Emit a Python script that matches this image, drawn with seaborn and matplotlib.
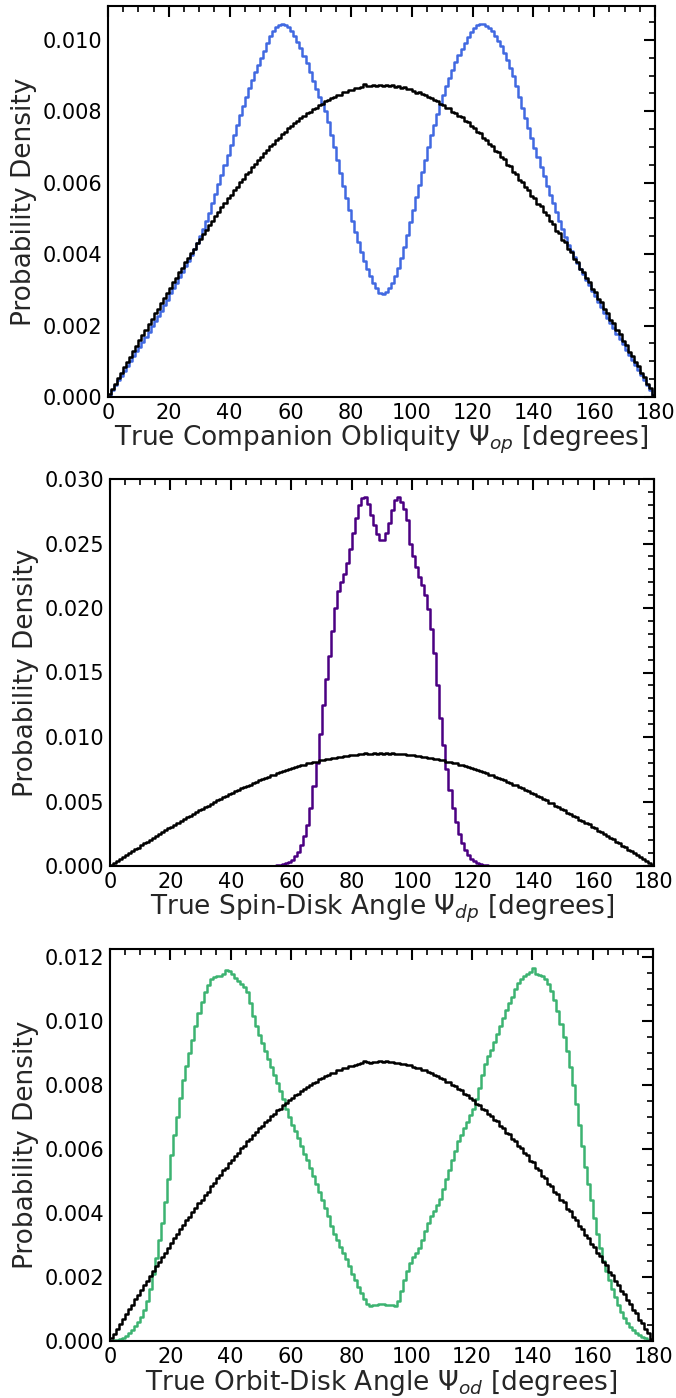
import numpy as np
import pandas as pd
import matplotlib
matplotlib.use("Agg")
import matplotlib.pyplot as plt
import seaborn as sns
from matplotlib.ticker import MultipleLocator, FormatStrFormatter

# ---- data: 1-degree bins from 0 to 180, probability density in units of 1e-4 ----
bin_lo, bin_hi, bin_w = 0, 180, 1

isotropic = [
    0.8, 2.3, 3.7, 5.4, 6.8, 8.4, 9.9, 11.3, 13.0, 14.3, 15.9, 17.5, 18.8, 20.4, 21.8, 23.4, 24.7, 26.3, 27.6, 29.2,
    30.5, 32.1, 33.3, 34.9, 36.1, 37.7, 38.9, 40.4, 41.5, 43.1, 44.2, 45.7, 46.7, 48.3, 49.3, 50.8, 51.8, 53.3, 54.2, 55.6,
    56.6, 57.9, 58.8, 60.2, 61.0, 62.4, 63.1, 64.5, 65.2, 66.5, 67.2, 68.4, 69.1, 70.3, 70.9, 72.1, 72.6, 73.7, 74.3, 75.3,
    75.8, 76.8, 77.3, 78.2, 78.6, 79.5, 79.9, 80.7, 81.0, 81.8, 82.1, 82.8, 83.1, 83.8, 83.9, 84.6, 84.7, 85.3, 85.4, 85.9,
    86.0, 86.4, 86.5, 86.8, 87.6, 87.1, 87.0, 87.3, 87.2, 87.4,
    87.2, 87.4, 87.1, 87.3, 86.9, 87.0, 86.6, 86.7, 86.2, 86.3, 85.7, 85.2, 85.4, 84.8, 84.7, 84.0, 83.8, 83.1, 82.9, 82.1,
    81.9, 81.0, 80.8, 79.9, 79.6, 78.6, 78.3, 77.2, 76.9, 75.8, 75.4, 74.2, 73.8, 72.6, 72.1, 70.9, 70.4, 69.0, 68.6, 67.1,
    66.6, 65.1, 64.6, 63.0, 62.5, 60.9, 60.3, 58.7, 58.1, 56.4, 55.8, 54.1, 53.4, 51.7, 51.0, 49.2, 48.5, 46.6, 45.9, 44.0,
    43.3, 41.4, 40.6, 38.7, 37.9, 35.9, 35.1, 33.2, 32.3, 30.3, 29.4, 27.5, 26.5, 24.6, 23.6, 21.6, 20.6, 18.7, 17.6, 15.7,
    14.6, 12.7, 11.6, 9.7, 8.6, 6.7, 5.5, 3.6, 2.5, 0.7,
]

obliquity = [
    0.6, 2.0, 3.4, 4.7, 6.0, 7.4, 8.7, 10.1, 11.4, 12.8, 14.1, 15.5, 16.9, 18.3, 19.8, 21.2, 22.7, 24.2, 25.8, 27.3,
    29.0, 30.5, 32.0, 33.5, 35.0, 36.6, 38.2, 39.8, 41.5, 43.2, 45.0, 47.0, 49.2, 51.6, 54.2, 56.9, 59.6, 62.3, 65.0, 67.8,
    70.6, 73.4, 76.2, 78.9, 81.5, 84.0, 86.4, 88.7, 90.9, 93.0, 95.0, 97.0, 99.0, 101.0, 102.6, 103.6, 104.2, 104.4, 104.2, 103.6,
    102.6, 101.2, 99.5, 97.6, 95.6, 93.4, 91.0, 88.6, 86.2, 84.0, 82.3, 80.0, 77.0, 73.5, 70.0, 66.4, 62.8, 59.2, 55.8, 52.5,
    49.3, 46.2, 43.3, 40.6, 38.1, 35.8, 33.8, 32.0, 30.5, 29.2,
    28.9, 29.4, 30.6, 32.0, 33.8, 36.2, 39.0, 42.0, 45.5, 49.0, 52.5, 56.0, 59.5, 63.0, 66.5, 70.0, 73.3, 76.3, 79.2, 82.0,
    84.6, 87.1, 89.4, 91.6, 93.7, 95.7, 97.5, 99.2, 100.8, 102.2, 103.3, 104.1, 104.5, 104.4, 104.0, 103.3, 102.4, 101.2, 99.8, 98.2,
    96.4, 94.4, 92.2, 89.8, 87.0, 84.0, 80.9, 78.2, 75.4, 72.6, 69.8, 67.1, 64.4, 61.8, 59.2, 56.7, 54.2, 51.7, 49.3, 47.0,
    44.8, 42.7, 40.9, 39.1, 37.5, 35.9, 34.4, 32.9, 31.3, 29.8, 28.3, 26.7, 25.2, 23.6, 22.1, 20.6, 19.2, 17.7, 16.2, 14.8,
    13.3, 11.9, 10.5, 9.0, 7.6, 6.2, 4.8, 3.4, 2.0, 0.6,
]

spin_disk = [
    0, 0, 0, 0, 0, 0, 0, 0, 0, 0, 0, 0, 0, 0, 0, 0, 0, 0, 0, 0,
    0, 0, 0, 0, 0, 0, 0, 0, 0, 0, 0, 0, 0, 0, 0, 0, 0, 0, 0, 0,
    0, 0, 0, 0, 0, 0, 0, 0, 0, 0, 0.1, 0.1, 0.1, 0.2, 0.2, 0.4, 0.7, 1.2, 2.0, 3.2,
    5.0, 7.5, 11.0, 16.0, 23.0, 32.0, 45.0, 62.0, 80.0, 102.0, 125.0, 145.0, 163.0, 182.0, 200.0, 213.0, 220.0, 226.0, 235.0, 246.0,
    258.0, 270.0, 280.0, 285.0, 286.0, 281.0, 272.0, 264.0, 257.0, 253.0,
    253.0, 258.0, 266.0, 276.0, 284.0, 286.0, 282.0, 277.0, 268.0, 250.0, 240.0, 232.0, 224.0, 218.0, 210.0, 199.0, 184.0, 165.0, 140.0, 115.0,
    94.0, 75.0, 59.0, 45.0, 34.0, 25.0, 18.0, 12.5, 8.5, 5.5, 3.5, 2.2, 1.3, 0.8, 0.5, 0.3, 0.2, 0.1, 0, 0,
    0, 0, 0, 0, 0, 0, 0, 0, 0, 0, 0, 0, 0, 0, 0, 0, 0, 0, 0, 0,
    0, 0, 0, 0, 0, 0, 0, 0, 0, 0, 0, 0, 0, 0, 0, 0, 0, 0, 0, 0,
    0, 0, 0, 0, 0, 0, 0, 0, 0, 0,
]

orbit_disk = [
    0.1, 0.2, 0.4, 0.6, 1.0, 1.6, 2.4, 3.4, 4.6, 6.0, 7.6, 9.8, 12.6, 16.3, 21.0, 26.0, 31.5, 37.0, 43.5, 50.5,
    58.0, 64.5, 70.0, 76.0, 81.5, 86.0, 90.0, 94.0, 98.5, 102.5, 106.0, 109.0, 111.3, 113.2, 113.9, 114.0, 114.2, 114.6, 115.8, 115.5,
    114.6, 113.5, 112.5, 111.5, 110.6, 109.0, 105.5, 101.5, 98.5, 95.5, 93.0, 90.5, 88.0, 85.5, 83.0, 80.5, 78.0, 75.5, 72.5, 70.0,
    67.5, 65.5, 63.5, 61.0, 58.5, 56.5, 54.0, 51.5, 49.0, 46.5, 44.0, 41.5, 39.0, 36.0, 33.5, 31.5, 29.5, 27.5, 25.5, 23.5,
    21.0, 19.0, 17.0, 15.0, 13.0, 11.5, 11.0, 11.1, 11.4, 11.6,
    11.6, 11.4, 11.3, 11.1, 10.8, 12.5, 15.5, 19.0, 22.0, 24.5, 26.3, 27.5, 29.0, 31.5, 34.5, 37.0, 39.0, 40.5, 42.5, 44.5,
    47.5, 50.5, 53.5, 56.5, 59.5, 62.5, 64.5, 66.5, 68.5, 70.5, 72.5, 75.5, 79.0, 83.0, 86.5, 89.0, 91.0, 93.5, 96.0, 98.5,
    101.0, 103.5, 105.5, 107.5, 110.0, 111.8, 113.0, 114.0, 114.6, 115.2, 116.5, 114.6, 114.3, 114.0, 113.0, 111.5, 109.5, 106.5, 103.0, 99.0,
    95.0, 90.5, 85.5, 80.0, 74.0, 67.5, 61.0, 54.5, 49.0, 44.0, 38.5, 33.5, 29.0, 25.0, 22.0, 19.0, 16.2, 13.6, 11.2, 9.0,
    7.2, 5.7, 4.5, 3.5, 2.6, 1.9, 1.3, 0.8, 0.4, 0.15,
]

panels = [
    dict(values=obliquity, color="#4169E1",
         xlabel=r"True Companion Obliquity $\Psi_{op}$ [degrees]",
         ymax=0.01095, major=0.002, minor=0.0005),
    dict(values=spin_disk, color="#4B0082",
         xlabel=r"True Spin-Disk Angle $\Psi_{dp}$ [degrees]",
         ymax=0.0300, major=0.005, minor=0.001),
    dict(values=orbit_disk, color="#3CB371",
         xlabel=r"True Orbit-Disk Angle $\Psi_{od}$ [degrees]",
         ymax=0.01225, major=0.002, minor=0.0005),
]
axes_rects = [
    [108 / 676, 1 - 397 / 1398, 547 / 676, 391 / 1398],
    [110 / 676, 1 - 866 / 1398, 544 / 676, 387 / 1398],
    [110 / 676, 1 - 1341 / 1398, 543 / 676, 392 / 1398],
]

sns.set_style("white")
plt.rcParams["font.family"] = ["DejaVu Sans"]
plt.rcParams["mathtext.fontset"] = "dejavusans"

scale = 1e-4
centers = np.arange(bin_lo, bin_hi, bin_w) + bin_w / 2

fig = plt.figure(figsize=(6.76, 13.98), dpi=100)
for rect, p in zip(axes_rects, panels):
    ax = fig.add_axes(rect)
    df = pd.DataFrame({"angle": centers,
                       "dens": np.array(p["values"], dtype=float) * scale,
                       "iso": np.array(isotropic, dtype=float) * scale})
    sns.histplot(data=df, x="angle", weights="dens", binwidth=bin_w, binrange=(bin_lo, bin_hi),
                 element="step", fill=False, color=p["color"], linewidth=1.8, ax=ax)
    sns.histplot(data=df, x="angle", weights="iso", binwidth=bin_w, binrange=(bin_lo, bin_hi),
                 element="step", fill=False, color="black", linewidth=1.8, ax=ax)
    ax.set_xlim(0, 180)
    ax.set_ylim(0, p["ymax"])
    ax.xaxis.set_major_locator(MultipleLocator(20))
    ax.xaxis.set_minor_locator(MultipleLocator(5))
    ax.yaxis.set_major_locator(MultipleLocator(p["major"]))
    ax.yaxis.set_minor_locator(MultipleLocator(p["minor"]))
    ax.yaxis.set_major_formatter(FormatStrFormatter("%.3f"))
    ax.tick_params(which="both", direction="in", top=True, right=True,
                   labelsize=15, colors="black")
    ax.tick_params(which="major", length=8, width=1.5, pad=4)
    ax.tick_params(which="minor", length=4, width=1.2)
    for s in ax.spines.values():
        s.set_linewidth(1.5)
        s.set_color("black")
    ax.set_xlabel(p["xlabel"], fontsize=19, labelpad=1)
    ax.set_ylabel("Probability Density", fontsize=19, labelpad=4)

fig.savefig("out.png", dpi=100)
